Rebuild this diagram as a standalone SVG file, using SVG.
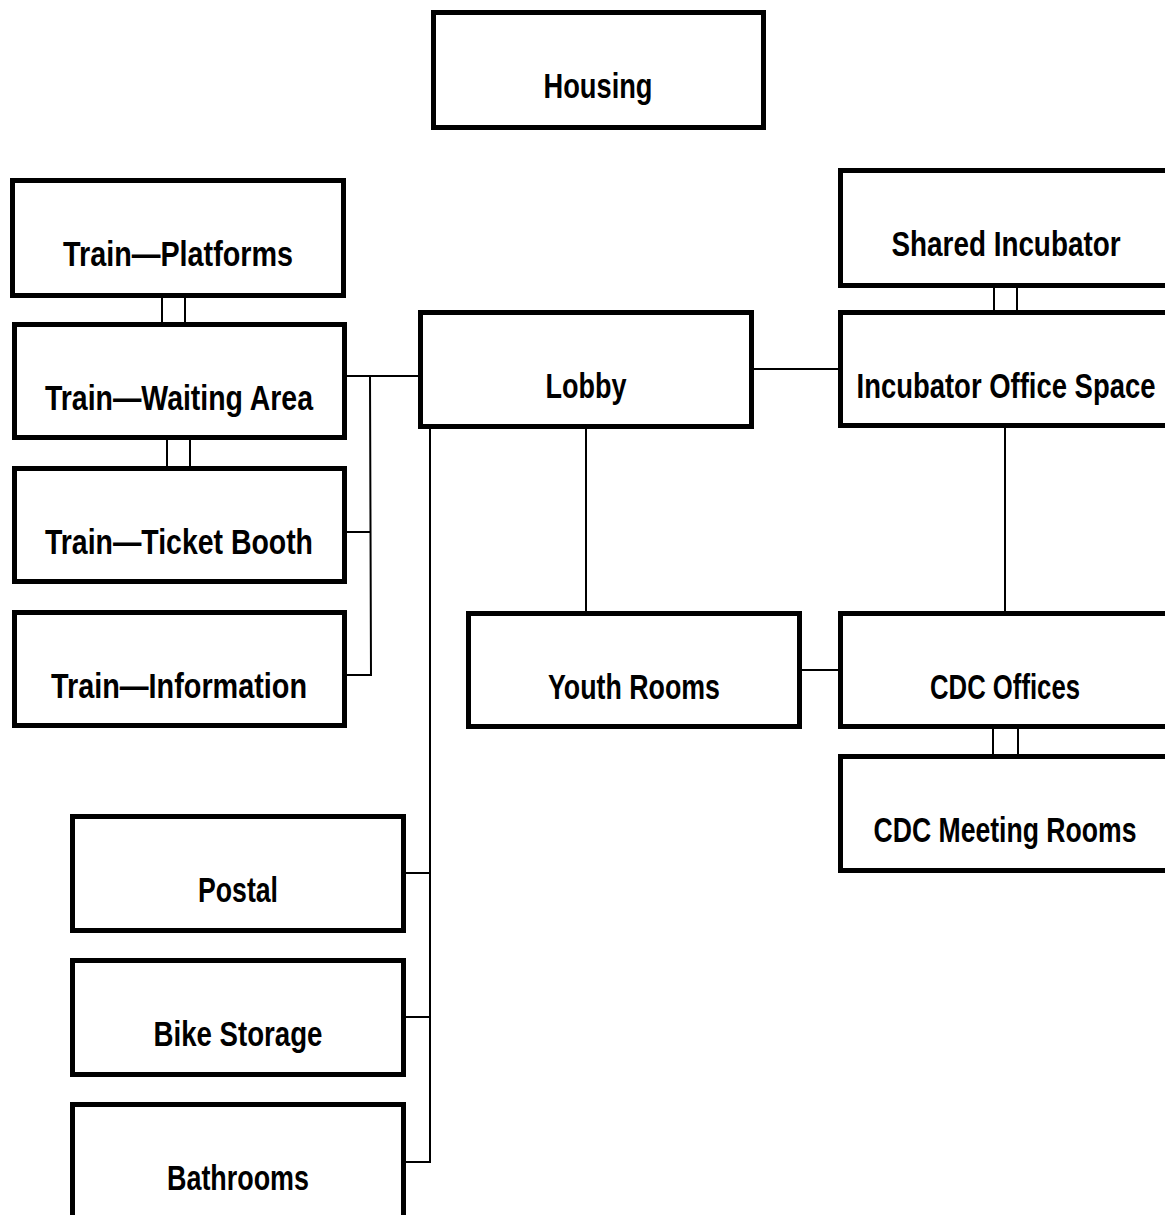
<svg xmlns="http://www.w3.org/2000/svg" width="1165" height="1215" viewBox="0 0 1165 1215">
<style>
.box{fill:#fff;stroke:#000;stroke-width:5}
.lbl{font-family:"Liberation Sans",Arial,sans-serif;font-size:35px;font-weight:bold;fill:#000;text-anchor:middle}
.con{fill:none;stroke:#000;stroke-width:2}
</style>
<rect width="1165" height="1215" fill="#fff"/>
<g id="connectors">
<line class="con" x1="162" y1="296" x2="162" y2="324"/>
<line class="con" x1="185" y1="296" x2="185" y2="324"/>
<line class="con" x1="167" y1="438" x2="167" y2="468"/>
<line class="con" x1="190" y1="438" x2="190" y2="468"/>
<polyline class="con" points="345,376 420,376"/>
<polyline class="con" points="370,376 371,675 345,675"/>
<line class="con" x1="345" y1="532" x2="370" y2="532"/>
<polyline class="con" points="430,428 430,1162 404,1162"/>
<line class="con" x1="404" y1="873" x2="430" y2="873"/>
<line class="con" x1="404" y1="1017" x2="430" y2="1017"/>
<line class="con" x1="752" y1="369" x2="840" y2="369"/>
<line class="con" x1="586" y1="428" x2="586" y2="613"/>
<line class="con" x1="994" y1="286" x2="994" y2="312"/>
<line class="con" x1="1017" y1="286" x2="1017" y2="312"/>
<line class="con" x1="1005" y1="426" x2="1005" y2="613"/>
<line class="con" x1="800" y1="670" x2="840" y2="670"/>
<line class="con" x1="993" y1="727" x2="993" y2="756"/>
<line class="con" x1="1018" y1="727" x2="1018" y2="756"/>
</g>
<g id="housing"><rect class="box" x="433.5" y="12.5" width="330" height="115"/><text class="lbl" x="598" y="98" textLength="109" lengthAdjust="spacingAndGlyphs">Housing</text></g>
<g id="train-platforms"><rect class="box" x="12.5" y="180.5" width="331" height="115"/><text class="lbl" x="178" y="266" textLength="230" lengthAdjust="spacingAndGlyphs">Train—Platforms</text></g>
<g id="train-waiting"><rect class="box" x="14.5" y="324.5" width="330" height="113"/><text class="lbl" x="179" y="410" textLength="268" lengthAdjust="spacingAndGlyphs">Train—Waiting Area</text></g>
<g id="train-ticket"><rect class="box" x="14.5" y="468.5" width="330" height="113"/><text class="lbl" x="179" y="554" textLength="268" lengthAdjust="spacingAndGlyphs">Train—Ticket Booth</text></g>
<g id="train-info"><rect class="box" x="14.5" y="612.5" width="330" height="113"/><text class="lbl" x="179" y="698" textLength="256" lengthAdjust="spacingAndGlyphs">Train—Information</text></g>
<g id="lobby"><rect class="box" x="420.5" y="312.5" width="331" height="114"/><text class="lbl" x="586" y="398" textLength="81" lengthAdjust="spacingAndGlyphs">Lobby</text></g>
<g id="shared-incubator"><rect class="box" x="840.5" y="170.5" width="331" height="115"/><text class="lbl" x="1006" y="256" textLength="229" lengthAdjust="spacingAndGlyphs">Shared Incubator</text></g>
<g id="incubator-office"><rect class="box" x="840.5" y="312.5" width="331" height="113"/><text class="lbl" x="1006" y="398" textLength="299" lengthAdjust="spacingAndGlyphs">Incubator Office Space</text></g>
<g id="youth-rooms"><rect class="box" x="468.5" y="613.5" width="331" height="113"/><text class="lbl" x="634" y="699" textLength="172" lengthAdjust="spacingAndGlyphs">Youth Rooms</text></g>
<g id="cdc-offices"><rect class="box" x="840.5" y="613.5" width="331" height="113"/><text class="lbl" x="1005" y="699" textLength="150" lengthAdjust="spacingAndGlyphs">CDC Offices</text></g>
<g id="cdc-meeting"><rect class="box" x="840.5" y="756.5" width="331" height="114"/><text class="lbl" x="1005" y="842" textLength="263" lengthAdjust="spacingAndGlyphs">CDC Meeting Rooms</text></g>
<g id="postal"><rect class="box" x="72.5" y="816.5" width="331" height="114"/><text class="lbl" x="238" y="902" textLength="80" lengthAdjust="spacingAndGlyphs">Postal</text></g>
<g id="bike-storage"><rect class="box" x="72.5" y="960.5" width="331" height="114"/><text class="lbl" x="238" y="1046" textLength="169" lengthAdjust="spacingAndGlyphs">Bike Storage</text></g>
<g id="bathrooms"><rect class="box" x="72.5" y="1104.5" width="331" height="114"/><text class="lbl" x="238" y="1190" textLength="142" lengthAdjust="spacingAndGlyphs">Bathrooms</text></g>
</svg>
